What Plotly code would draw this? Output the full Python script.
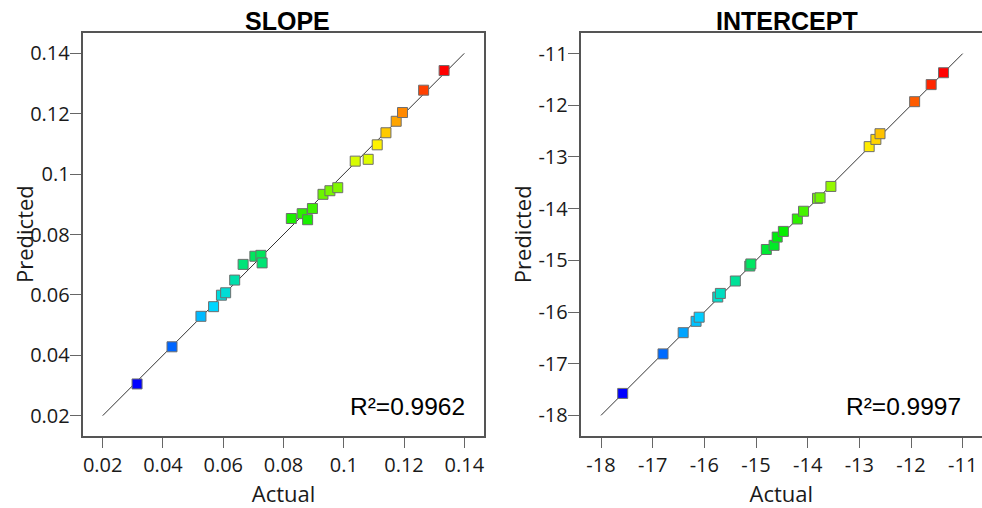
import plotly.graph_objects as go

# SLOPE panel data
slope_actual = [0.0314, 0.0430, 0.0526, 0.0568, 0.0594, 0.0608, 0.0638, 0.0666, 0.0705, 0.0725,
                0.0729, 0.0826, 0.0862, 0.0880, 0.0896, 0.0931, 0.0954, 0.0980, 0.1038, 0.1081,
                0.1111, 0.1140, 0.1174, 0.1195, 0.1265, 0.1333]
slope_pred = [0.0305, 0.0428, 0.0529, 0.0561, 0.0599, 0.0607, 0.0649, 0.0701, 0.0728, 0.0731,
              0.0706, 0.0853, 0.0869, 0.0849, 0.0886, 0.0933, 0.0945, 0.0955, 0.1043, 0.1049,
              0.1097, 0.1137, 0.1175, 0.1204, 0.1278, 0.1343]

# INTERCEPT panel data
int_actual = [-17.58, -16.80, -16.41, -16.16, -16.10, -15.74, -15.69, -15.40, -15.12, -15.10,
              -14.80, -14.65, -14.59, -14.47, -14.20, -14.08, -13.81, -13.76, -13.55, -12.81,
              -12.68, -12.60, -11.93, -11.61, -11.37]
int_pred = [-17.575, -16.81, -16.40, -16.18, -16.10, -15.71, -15.64, -15.40, -15.11, -15.07,
            -14.79, -14.71, -14.55, -14.44, -14.20, -14.05, -13.80, -13.79, -13.57, -12.80,
            -12.66, -12.55, -11.93, -11.60, -11.37]

slope_line = [0.02, 0.14]
int_line = [-18, -11]
slope_ticks = [0.02, 0.04, 0.06, 0.08, 0.1, 0.12, 0.14]
slope_ticktext = ["0.02", "0.04", "0.06", "0.08", "0.1", "0.12", "0.14"]
int_ticks = [-18, -17, -16, -15, -14, -13, -12, -11]
int_ticktext = ["-18", "-17", "-16", "-15", "-14", "-13", "-12", "-11"]
titles = ["SLOPE", "INTERCEPT"]
r2_labels = ["R²=0.9962", "R²=0.9997"]
x_title = "Actual"
y_title = "Predicted"

colorscale = [[0.0, "#0000ff"], [0.25, "#00d8ff"], [0.5, "#00ee00"], [0.75, "#ffff00"], [1.0, "#ff0000"]]

W, H = 982, 508
# pixel geometry of panels
L1, R1 = 82.7, 484.3
L2 = 580.7
TOP, BOT = 33.3, 435.7

fig = go.Figure()

def add_panel(ax, ay, actual, pred, line):
    fig.add_trace(go.Scatter(x=line, y=line, mode="lines", xaxis=ax, yaxis=ay,
                             line=dict(color="#333333", width=1), hoverinfo="skip", showlegend=False))
    fig.add_trace(go.Scatter(x=actual, y=pred, mode="markers", xaxis=ax, yaxis=ay, showlegend=False,
                             marker=dict(symbol="square", size=10, color=pred, colorscale=colorscale,
                                         cmin=min(pred), cmax=max(pred),
                                         line=dict(color="#6e6e6e", width=1))))

add_panel("x", "y", slope_actual, slope_pred, slope_line)
add_panel("x2", "y2", int_actual, int_pred, int_line)

tickfont = dict(family="Open Sans", size=20, color="#1a1a1a")
titlefont = dict(family="Open Sans", size=22, color="#1a1a1a")

def xaxis_common():
    return dict(showgrid=False, zeroline=False, showline=True, linecolor="#555555", linewidth=2,
                mirror=True, ticks="outside", ticklen=10, tickcolor="#666666", tickwidth=1,
                tickfont=tickfont)

def yaxis_common(mirror=True):
    d = xaxis_common()
    d["ticklen"] = 11
    d["ticklabelstandoff"] = -4
    d["mirror"] = mirror
    return d

ydom = [1 - BOT / H, 1 - TOP / H]
s_lo, s_hi = 0.01336, 0.14664
i_lo, i_hi = -18.393, -10.626

fig.update_layout(
    width=W, height=H, margin=dict(l=0, r=0, t=0, b=0),
    plot_bgcolor="white", paper_bgcolor="white",
    xaxis=dict(domain=[L1 / W, R1 / W], range=[s_lo, s_hi], tickvals=slope_ticks, ticktext=slope_ticktext,
               title=dict(text=x_title, font=titlefont, standoff=6), anchor="y", **xaxis_common()),
    yaxis=dict(domain=ydom, range=[s_lo, s_hi], tickvals=slope_ticks, ticktext=slope_ticktext,
               anchor="x", **yaxis_common()),
    xaxis2=dict(domain=[L2 / W, 1.0], range=[i_lo, i_hi], tickvals=int_ticks, ticktext=int_ticktext,
                title=dict(text=x_title, font=titlefont, standoff=6), anchor="y2", **xaxis_common()),
    yaxis2=dict(domain=ydom, range=[-18.393, -10.607], tickvals=int_ticks, ticktext=int_ticktext,
                anchor="x2", **yaxis_common(mirror=False)),
)

# y-axis titles (rotated)
for cx in [23.5, 521.7]:
    fig.add_annotation(text=y_title, xref="paper", yref="paper", x=cx / W, y=1 - 234.5 / H,
                       xanchor="center", yanchor="middle", textangle=-90, showarrow=False,
                       font=titlefont)

# panel titles
for txt, cx in zip(titles, [287.7, 786.7]):
    fig.add_annotation(text=f"<b>{txt}</b>", xref="paper", yref="paper", x=cx / W, y=1 - 20.5 / H,
                       xanchor="center", yanchor="middle", showarrow=False,
                       font=dict(family="Liberation Sans", size=25, color="#000000"))

# R² labels
for txt, ax, ay, xr in zip(r2_labels, ["x", "x2"], ["y", "y2"], [0.956, 0.953]):
    fig.add_annotation(text=txt, xref=f"{ax} domain", yref=f"{ay} domain",
                       x=xr, y=0.0726, xanchor="right", yanchor="middle", showarrow=False,
                       font=dict(family="Liberation Sans", size=24.5, color="#000000"))

# remove the default page margin so the figure fills the window exactly
fig.write_html("out.html", config={"displayModeBar": False},
               post_script="document.body.style.margin='0';document.body.style.overflow='hidden';")
